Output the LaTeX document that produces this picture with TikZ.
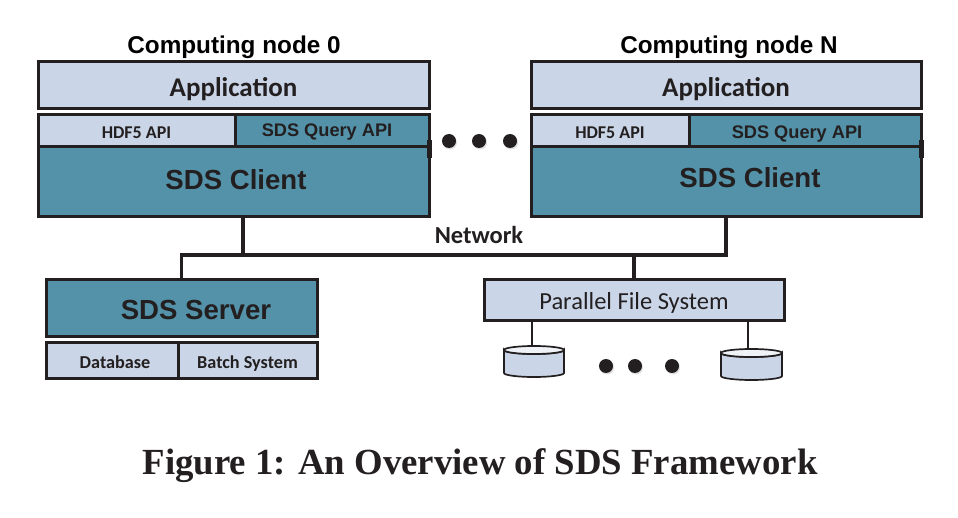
\documentclass[tikz,border=0pt]{standalone}
\usepackage{fontspec}
\usepackage{xcolor}
\setmainfont{Carlito}
\newfontfamily\headfont{Liberation Sans}
\newfontfamily\capfont{Liberation Serif}
\usetikzlibrary{positioning, shadows}
\definecolor{lightbox}{HTML}{CAD6E7}
\definecolor{tealbox}{HTML}{5392A8}
\definecolor{inkline}{HTML}{231F20}

\begin{document}
\begin{tikzpicture}[
      x=1pt, y=-1pt,
      box/.style={draw=inkline, line width=3pt, outer sep=0pt, inner sep=0pt, text=inkline,
        drop shadow={opacity=0.25, shadow xshift=1pt, shadow yshift=-1.5pt}},
      lightpart/.style={box, fill=lightbox},
      tealpart/.style={box, fill=tealbox},
      apptext/.style={font=\bfseries\fontsize{27}{27}\selectfont, text height=23pt, text depth=1pt},
      apitext/.style={font=\bfseries\fontsize{18}{18}\selectfont, text height=15pt, text depth=0.6pt},
      lowtext/.style={font=\bfseries\fontsize{18.2}{18}\selectfont, text height=15.5pt, text depth=0.5pt},
      querytext/.style={font=\headfont\bfseries\fontsize{18.2}{18}\selectfont, text=inkline},
      bigtext/.style={font=\headfont\bfseries\fontsize{27.6}{27}\selectfont, text=inkline},
      title/.style={font=\headfont\bfseries\fontsize{24.3}{24}\selectfont, text=black},
      dot/.style={circle, fill=inkline, minimum size=14pt, inner sep=0pt,
        drop shadow={opacity=0.25, shadow xshift=1pt, shadow yshift=-1.5pt}},
      diskline/.style={draw=inkline, line width=1.7pt},
      bus/.style={draw=inkline, line width=3.2pt},
      thinbus/.style={draw=inkline, line width=2.6pt},
      stub/.style={draw=inkline, line width=5pt}
    ]
    \useasboundingbox (0,0) rectangle (958,518);

    % computing node 0
    \node[lightpart, anchor=north west, minimum width=391pt, minimum height=47pt, apptext] (app0) at (38,62) {Application};
    \node[lightpart, anchor=north west, minimum width=197pt, minimum height=32pt, apitext] (hdf0) at (38,115) {HDF5 API};
    \node[tealpart, right=0pt of hdf0, minimum width=194pt, minimum height=32pt] (query0) {};
    \node[tealpart, anchor=north west, minimum width=391pt, minimum height=70pt] (client0) at (38,147) {};
    \node[querytext] (querytxt0) at (327,132) {SDS Query API};
    \node[bigtext] (clienttxt0) at (236,180) {SDS Client};
    \node[title] (title0) at (234,47) {Computing node 0};

    % computing node N
    \node[lightpart, anchor=north west, minimum width=390pt, minimum height=47pt, apptext] (appN) at (531,62) {Application};
    \node[lightpart, anchor=north west, minimum width=158pt, minimum height=32pt, apitext] (hdfN) at (531,115) {HDF5 API};
    \node[tealpart, right=0pt of hdfN, minimum width=232pt, minimum height=32pt] (queryN) {};
    \node[tealpart, anchor=north west, minimum width=390pt, minimum height=70pt] (clientN) at (531,147) {};
    \node[querytext] (querytxtN) at (797,134.5) {SDS Query API};
    \node[bigtext] (clienttxtN) at (750,178) {SDS Client};
    \node[title] (titleN) at (729,47) {Computing node N};

    \draw[stub] ([yshift=7pt]client0.north east) -- ([yshift=-11pt]client0.north east);
    \draw[stub] ([yshift=7pt]clientN.north east) -- ([yshift=-11pt]clientN.north east);

    \foreach \i/\xpos in {1/449, 2/479, 3/510} {
      \node[dot] (topdot\i) at (\xpos,141) {};
    }

    % server side
    \node[tealpart, anchor=north west, minimum width=271pt, minimum height=57pt] (server) at (46,280) {};
    \node[bigtext] (servertxt) at (196,310) {SDS Server};
    \node[lightpart, anchor=north west, minimum width=132pt, minimum height=35pt, lowtext] (database) at (46,343) {\hspace*{6pt}Database};
    \node[lightpart, right=0pt of database, minimum width=139pt, minimum height=35pt, lowtext] (batch) {Batch System};

    % storage side
    \node[lightpart, anchor=north west, minimum width=300pt, minimum height=41pt,
      font=\fontsize{24.5}{24}\selectfont, text height=19pt, text depth=0.4pt] (pfs) at (484,280) {Parallel File System};
    \foreach \name/\xc/\ytop/\rad in {disk1/534/350/30, disk2/751.5/353/30.5} {
      \coordinate (\name) at (\xc,\ytop);
      \path[diskline, fill=lightbox] (\xc-\rad,\ytop) -- ++(0,23) arc[start angle=180, end angle=360, x radius=\rad pt, y radius=4pt]
        -- ++(0,-23) arc[start angle=0, end angle=-180, x radius=\rad pt, y radius=4pt] -- cycle;
      \path[diskline, fill=lightbox!30] (\name) ellipse[x radius=\rad pt, y radius=4pt];
    }
    \foreach \i/\xpos in {1/606, 2/635, 3/672} {
      \node[dot] (lowdot\i) at (\xpos,366) {};
    }

    % network
    \coordinate (busmid) at (480,255);
    \coordinate (tap0) at (243,217);
    \coordinate (tap1) at (532,321);
    \coordinate (tap2) at (748,321);
    \draw[bus] (server.north) |- (busmid) -| (clientN.south);
    \draw[bus] (tap0) -- (tap0 |- busmid);
    \draw[bus] (pfs.north) -- (pfs.north |- busmid);
    \draw[thinbus] (tap1) -- ([yshift=4pt]tap1 |- disk1);
    \draw[thinbus] (tap2) -- ([yshift=4pt]tap2 |- disk2);
    \node[font=\bfseries\fontsize{24.5}{24}\selectfont, text=inkline] (nettxt) at (479,235) {Network};

    \node[font=\capfont\bfseries\fontsize{36.8}{36}\selectfont, text=inkline] (caption) at (480,465.5) {Figure 1: An Overview of SDS Framework};
  \end{tikzpicture}
\end{document}
